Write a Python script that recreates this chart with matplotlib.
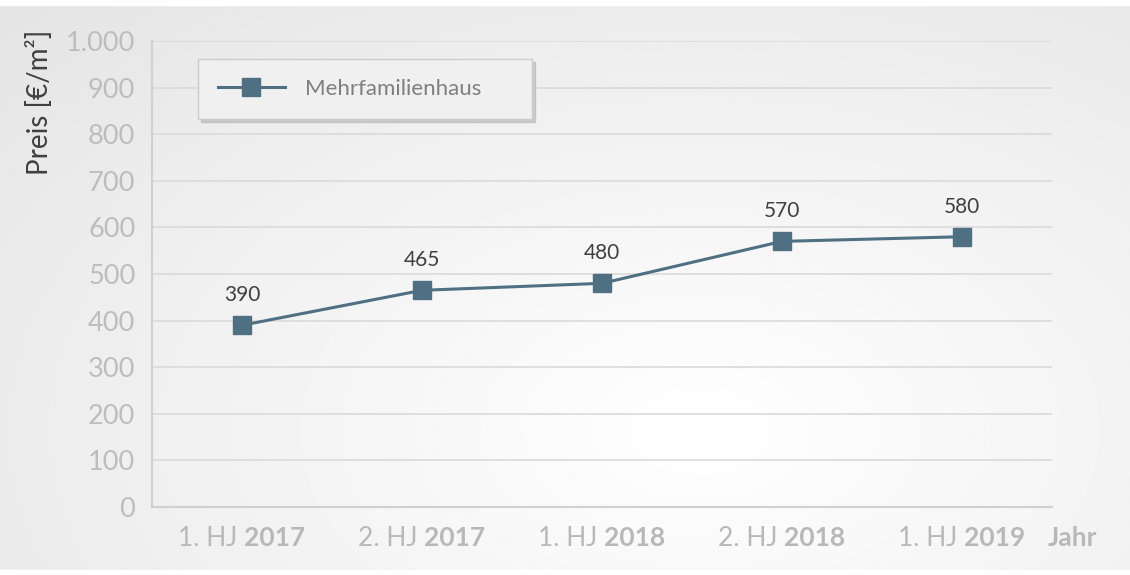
import numpy as np
import matplotlib.pyplot as plt
from matplotlib.ticker import FuncFormatter

halbjahr = ['1. HJ', '2. HJ', '1. HJ', '2. HJ', '1. HJ']
jahre = ['2017', '2017', '2018', '2018', '2019']
preis = [390, 465, 480, 570, 580]
serie = 'Mehrfamilienhaus'

plt.rcParams['font.family'] = ['Lato', 'DejaVu Sans']

W, H = 1130, 575
fig = plt.figure(figsize=(W / 100, H / 100), dpi=100)

# Hintergrund mit weichem Verlauf
bg = fig.add_axes([0, 0, 1, 1], zorder=-10)
yy, xx = np.mgrid[0:1:300j, 0:1:600j]
d = np.sqrt(((xx - 0.62) / 0.7) ** 2 + ((yy - 0.75) / 0.85) ** 2)
shade = 1.0 - 0.085 * np.clip(d, 0, 1.2)
bg.imshow(shade, cmap='gray', vmin=0, vmax=1, aspect='auto', extent=[0, 1, 0, 1], origin='upper')
bg.axhspan(0.992, 1, color='white')
bg.axhspan(0, 0.008, color='white')
bg.set_xlim(0, 1)
bg.set_ylim(0, 1)
bg.axis('off')

ax = fig.add_axes([152 / W, (H - 507) / H, 900 / W, 466 / H])
ax.patch.set_alpha(0)
x = np.arange(len(preis))
farbe = '#4f7083'
ax.plot(x, preis, color=farbe, lw=2.2, marker='s', ms=12.5, label=serie, zorder=3)

for xi, v in zip(x, preis):
    ax.annotate(str(v), (xi, v), xytext=(0, 30), textcoords='offset pixels',
                ha='center', va='center', fontsize=15, color='#404040')

ax.set_xlim(-0.5, len(preis) - 0.5)
ax.set_ylim(0, 1000)
ax.set_yticks(range(0, 1001, 100))
ax.yaxis.set_major_formatter(FuncFormatter(lambda v, p: f'{int(v):,}'.replace(',', '.')))
ax.grid(axis='y', color='#dadada', lw=1.2)
ax.set_axisbelow(True)
for s in ['top', 'right']:
    ax.spines[s].set_visible(False)
ax.spines['left'].set_color('#d0d0d0')
ax.spines['bottom'].set_color('#d0d0d0')
ax.spines['left'].set_linewidth(1.5)
ax.spines['bottom'].set_linewidth(1.5)
ax.tick_params(axis='y', length=0, pad=12, labelsize=19.5, labelcolor='#bdbdbd')
ax.set_xticks(x)
ax.set_xticklabels([])
ax.tick_params(axis='x', length=0)

grau = '#b8b8b8'
for xi, hj, j in zip(x, halbjahr, jahre):
    ax.annotate(hj + ' ', (xi, 0), xycoords=('data', 'axes fraction'), xytext=(2, -31),
                textcoords='offset pixels', ha='right', va='center', fontsize=19, color=grau)
    ax.annotate(j, (xi, 0), xycoords=('data', 'axes fraction'), xytext=(2, -31),
                textcoords='offset pixels', ha='left', va='center', fontsize=19,
                color=grau, fontweight='bold')
fig.text(1048 / W, 1 - 538 / H, 'Jahr', ha='left', va='center', fontsize=19,
         color=grau, fontweight='bold')

fig.text(40 / W, 1 - 30 / H, 'Preis [€/m²]', rotation=90, ha='center', va='top',
         fontsize=20, color='#404040')

leg = ax.legend(loc='upper left', bbox_to_anchor=(46 / 900, 1 - 18 / 466, 334 / 900, 0.0),
                mode='expand', frameon=True, fancybox=False,
                shadow={'color': '0.7', 'alpha': 0.6}, fontsize=16,
                handlelength=3.0, borderpad=0.9, handletextpad=0.9, labelcolor='#7f7f7f',
                borderaxespad=0)
leg.get_frame().set_facecolor('#f0f0f0')
leg.get_frame().set_edgecolor('#cccccc')
leg.get_frame().set_alpha(1)

fig.savefig('out.png', dpi=100)
